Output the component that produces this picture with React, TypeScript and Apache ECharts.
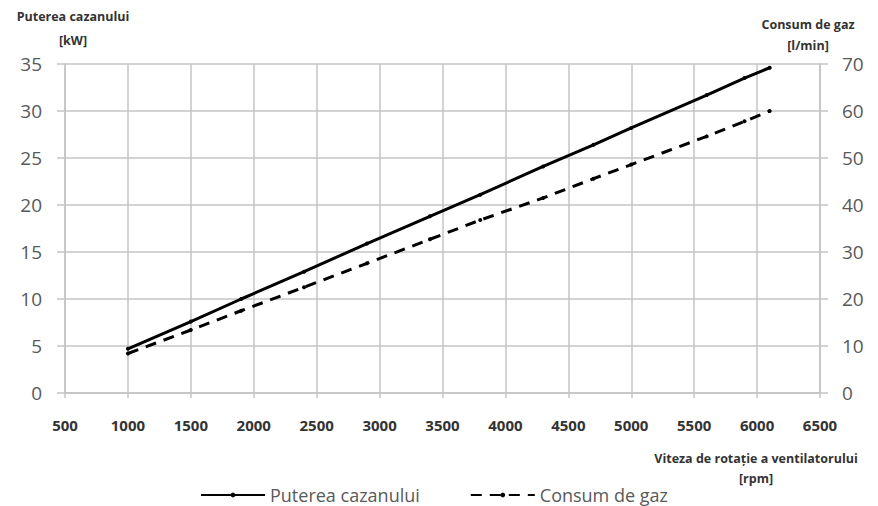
import React, { useEffect, useRef } from "react";
import * as echarts from "echarts";

// Fan speed (rpm) at which both curves were measured
const rpm = [1000, 1500, 1900, 2400, 2900, 3400, 3800, 4300, 4700, 5000, 5600, 5900, 6100];
// Boiler power [kW] — left axis
const putere = [4.7, 7.6, 10.0, 12.9, 15.9, 18.8, 21.1, 24.1, 26.4, 28.2, 31.7, 33.5, 34.6];
// Gas consumption [l/min] — right axis
const consum = [8.4, 13.4, 17.5, 22.5, 27.6, 32.7, 36.8, 41.5, 45.6, 48.6, 54.6, 57.8, 60.0];

const seriesNames = ["Puterea cazanului", "Consum de gaz"];
const leftAxisName = ["Puterea cazanului", "[kW]"];
const rightAxisName = ["Consum de gaz", "[l/min]"];
const xAxisName = ["Viteza de rotație a ventilatorului", "[rpm]"];

const gridColor = "#c4c4c4";
const labelColor = "#595959";
const nameColor = "#333333";
const font = "'Open Sans', sans-serif";

// Two-line axis caption placed as free text
const caption = (lines: string[], cx: number, y1: number, y2: number) => [
  {
    type: "text",
    x: cx,
    y: y1,
    style: { text: lines[0], fill: nameColor, font: `bold 12.5px ${font}`, align: "center", verticalAlign: "middle" },
  },
  {
    type: "text",
    x: cx,
    y: y2,
    style: { text: lines[1], fill: nameColor, font: `bold 12.5px ${font}`, align: "center", verticalAlign: "middle" },
  },
];

export default function App() {
  const ref = useRef<HTMLDivElement>(null);

  useEffect(() => {
    if (!ref.current) return;
    const chart = echarts.init(ref.current, undefined, { renderer: "svg" });

    const axisLine = { show: true, lineStyle: { color: gridColor, width: 1.5 } };
    const splitLine = { show: true, lineStyle: { color: gridColor, width: 1.5 } };
    const yLabel = { color: labelColor, fontSize: 19, fontFamily: font };

    chart.setOption({
      animation: false,
      backgroundColor: "#ffffff",
      textStyle: { fontFamily: font },
      grid: { left: 65, right: 58, top: 64, bottom: 113, containLabel: false, outerBoundsMode: "none" },
      graphic: [
        ...caption(leftAxisName, 73, 16, 40),
        ...caption(rightAxisName, 808, 24, 45),
        ...caption(xAxisName, 756, 458, 478),
      ],
      legend: {
        top: 480,
        left: 195,
        itemWidth: 64,
        itemHeight: 6,
        itemGap: 50,
        textStyle: { fontSize: 18, color: labelColor, fontFamily: font, lineHeight: 20 },
        data: seriesNames,
      },
      xAxis: {
        type: "value",
        min: 500,
        max: 6500,
        interval: 500,
        axisLine,
        axisTick: { show: true, length: 5, lineStyle: { color: gridColor, width: 1.5 } },
        splitLine,
        axisLabel: {
          color: nameColor,
          fontSize: 15,
          fontWeight: "bold",
          margin: 24,
          fontFamily: font,
          formatter: (v: number) => String(v),
        },
      },
      yAxis: [
        {
          type: "value",
          min: 0,
          max: 35,
          interval: 5,
          axisLine,
          axisTick: { show: true, length: 8, lineStyle: { color: gridColor, width: 1.5 } },
          splitLine,
          axisLabel: { ...yLabel, margin: 23 },
        },
        {
          type: "value",
          min: 0,
          max: 70,
          interval: 10,
          position: "right",
          axisLine,
          axisTick: { show: true, length: 8, lineStyle: { color: gridColor, width: 1.5 } },
          splitLine: { show: false },
          axisLabel: { ...yLabel, margin: 22 },
        },
      ],
      series: [
        {
          name: seriesNames[0],
          type: "line",
          yAxisIndex: 0,
          data: rpm.map((r, i) => [r, putere[i]]),
          symbol: "circle",
          symbolSize: 4,
          itemStyle: { color: "#000" },
          lineStyle: { color: "#000", width: 3 },
        },
        {
          name: seriesNames[1],
          type: "line",
          yAxisIndex: 1,
          data: rpm.map((r, i) => [r, consum[i]]),
          symbol: "circle",
          symbolSize: 4,
          itemStyle: { color: "#000" },
          lineStyle: { color: "#000", width: 3, type: [11, 8] },
        },
      ],
    });

    return () => chart.dispose();
  }, []);

  return <div ref={ref} style={{ width: 878, height: 506, position: "absolute", left: 0, top: 0 }} />;
}
